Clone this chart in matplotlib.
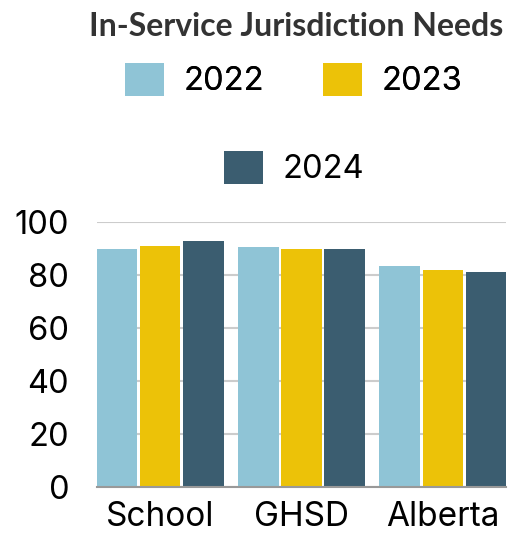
import matplotlib.pyplot as plt
import numpy as np

# Datos
categories = ["School", "GHSD", "Alberta"]
years = ["2022", "2023", "2024"]
values_2022 = [90, 90.5, 83.5]
values_2023 = [91, 90, 82]
values_2024 = [93, 90, 81]
colors = ["#8fc4d6", "#ecc208", "#3b5d70"]

plt.rcParams['font.family'] = ['Inter', 'DejaVu Sans']

fig = plt.figure(figsize=(5.15, 5.33), dpi=100)
ax = fig.add_axes([97 / 515, 1 - 487 / 533, (506 - 97) / 515, (487 - 222) / 533])

x = np.arange(len(categories))
step = 0.305
width = 0.284
bars = []
for i, (vals, col) in enumerate(zip([values_2022, values_2023, values_2024], colors)):
    b = ax.bar(x + (i - 1) * step, vals, width, color=col, label=years[i], zorder=3)
    bars.append(b)

ax.set_xlim(-0.45, 2.45)
ax.set_ylim(0, 100)
ax.set_yticks([0, 20, 40, 60, 80, 100])
ax.set_xticks(x)
ax.set_xticklabels(categories)
ax.tick_params(axis='y', length=0, pad=20, labelsize=23.5)
ax.tick_params(axis='x', length=0, pad=10, labelsize=24)
ax.grid(axis='y', color='#cccccc', linewidth=1.5, zorder=0)
for s in ['top', 'right', 'left']:
    ax.spines[s].set_visible(False)
ax.spines['bottom'].set_color('#999999')
ax.spines['bottom'].set_linewidth(1.5)
ax.spines['bottom'].set_zorder(4)

fig.text(296 / 515, 1 - 26 / 533, "In-Service Jurisdiction Needs", ha='center', va='center',
         fontsize=23, fontweight='bold', color='#333333', family=['Lato', 'DejaVu Sans'])

leg_kw = dict(frameon=False, fontsize=23.5, handlelength=1.2, handleheight=1.2,
              handletextpad=0.6)
leg1 = fig.legend(handles=[bars[0], bars[1]], loc='center', bbox_to_anchor=(294 / 515, 1 - 80 / 533),
                  ncol=2, columnspacing=1.8, **leg_kw)
leg2 = fig.legend(handles=[bars[2]], loc='center', bbox_to_anchor=(294 / 515, 1 - 168 / 533),
                  **leg_kw)
fig.add_artist(leg1)

fig.savefig("out.png", dpi=100)
